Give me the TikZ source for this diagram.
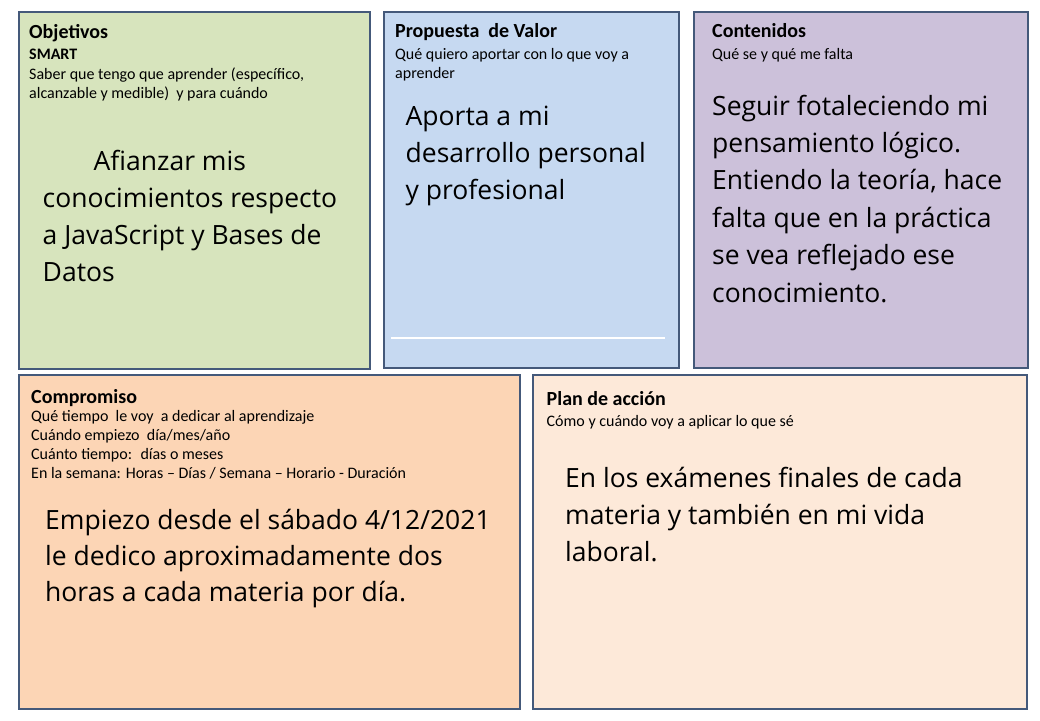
\documentclass[tikz,border=0pt]{standalone}
\usepackage{fontspec}
\setmainfont{Carlito}
\newfontfamily\bodyfont{Open Sans}
\usetikzlibrary{calc}
\definecolor{edge}{HTML}{44597A}
\definecolor{objfill}{HTML}{D7E4BD}
\definecolor{valfill}{HTML}{C6D9F1}
\definecolor{confill}{HTML}{CCC1DA}
\definecolor{comfill}{HTML}{FCD5B5}
\definecolor{planfill}{HTML}{FDE9D9}
\pgfkeys{
  /canvas/.cd,
  width/.initial=100,
  height/.initial=100,
  position/.initial={0,0},
  paper/.initial=white
}
\newcommand{\canvasbox}[1][]{
    {
        \pgfkeys{/canvas/.cd,#1}
        \pgfkeys{/canvas/width/.get=\canvasboxwidth}
        \pgfkeys{/canvas/height/.get=\canvasboxheight}
        \pgfkeys{/canvas/position/.get=\canvasboxposition}
        \pgfkeys{/canvas/paper/.get=\canvasboxpaper}
        \draw[line width=2.6pt,draw=edge,fill=\canvasboxpaper] (\canvasboxposition) rectangle ++(\canvasboxwidth,\canvasboxheight);
    }
}
\begin{document}
\begin{tikzpicture}[x=1pt,y=-1pt,
    head/.style={font=\bfseries\fontsize{20}{24}\selectfont,anchor=base west,inner sep=0pt},
    hint/.style={font=\fontsize{16}{19.5}\selectfont,anchor=base west,inner sep=0pt,align=left},
    body/.style={font=\bodyfont\fontsize{26.5}{37}\selectfont,anchor=base west,inner sep=0pt,align=left}]
            \useasboundingbox (0,0) rectangle (1040,720);
            \fill[white] (0,0) rectangle (1040,720);

            \coordinate (p1) at (19,12);
            \coordinate (p2) at (384,12);
            \coordinate (p3) at (694,12);
            \coordinate (p4) at (19,375);
            \coordinate (p5) at (533,375);

            \foreach \p/\w/\h/\col in {p1/351/357/objfill,p2/295/356/valfill,p3/334/356/confill,p4/501/334/comfill,p5/494/334/planfill} {
                \canvasbox[position=\p,width=\w,height=\h,paper=\col]
            }

            % Objetivos (multi-line nodes sit on their last baseline)
            \node[head] (objhead) at ($ (p1) + (10,26) $) {Objetivos};
            \node[hint] (objhint) at ($ (p1) + (10,86.5) $) {\textbf{SMART}\\Saber que tengo que aprender (específico,\\alcanzable y medible)~ y para cuándo};
            \node[body] (objbody) at ($ (p1) + (23.5,269.5) $) {\hspace*{51pt}Afianzar mis\\conocimientos respecto\\a JavaScript y Bases de\\Datos};

            % Propuesta de valor
            \node[head] (valhead) at ($ (p2) + (11,25) $) {Propuesta~ de Valor};
            \node[hint] (valhint) at ($ (p2) + (11,66.5) $) {Qué quiero aportar con lo que voy a\\aprender};
            \node[body] (valbody) at ($ (p2) + (21.5,187) $) {Aporta a mi\\desarrollo personal\\y profesional};
            \draw[white,line width=2pt] ($ (p2) + (7,326) $) -- ($ (p2) + (281,326) $);

            % Contenidos
            \node[head] (conhead) at ($ (p3) + (18,25) $) {Contenidos};
            \node[hint] (conhint) at ($ (p3) + (18,47.5) $) {Qué se y qué me falta};
            \node[body,font=\bodyfont\fontsize{26.5}{37.4}\selectfont] (conbody) at ($ (p3) + (18,290) $) {Seguir fotaleciendo mi\\pensamiento lógico.\\Entiendo la teoría, hace\\falta que en la práctica\\se vea reflejado ese\\conocimiento.};

            % Compromiso
            \node[head] (comhead) at ($ (p4) + (12,28) $) {Compromiso};
            \node[hint,font=\fontsize{16}{19}\selectfont] (comhint) at ($ (p4) + (12,103) $) {Qué tiempo~ le voy~ a dedicar al aprendizaje\\Cuándo empiezo~ día/mes/año\\Cuánto tiempo:~ días o meses\\En la semana: Horas – Días / Semana – Horario - Duración};
            \node[body,font=\bodyfont\fontsize{26.5}{36}\selectfont] (combody) at ($ (p4) + (26,226) $) {Empiezo desde el sábado 4/12/2021\\le dedico aproximadamente dos\\horas a cada materia por día.};

            % Plan de accion
            \node[head] (planhead) at ($ (p5) + (13.5,30) $) {Plan de acción};
            \node[hint] (planhint) at ($ (p5) + (13.5,51) $) {Cómo y cuándo voy a aplicar lo que sé};
            \node[body] (planbody) at ($ (p5) + (32,186) $) {En los exámenes finales de cada\\materia y también en mi vida\\laboral.};
        \end{tikzpicture}
\end{document}
